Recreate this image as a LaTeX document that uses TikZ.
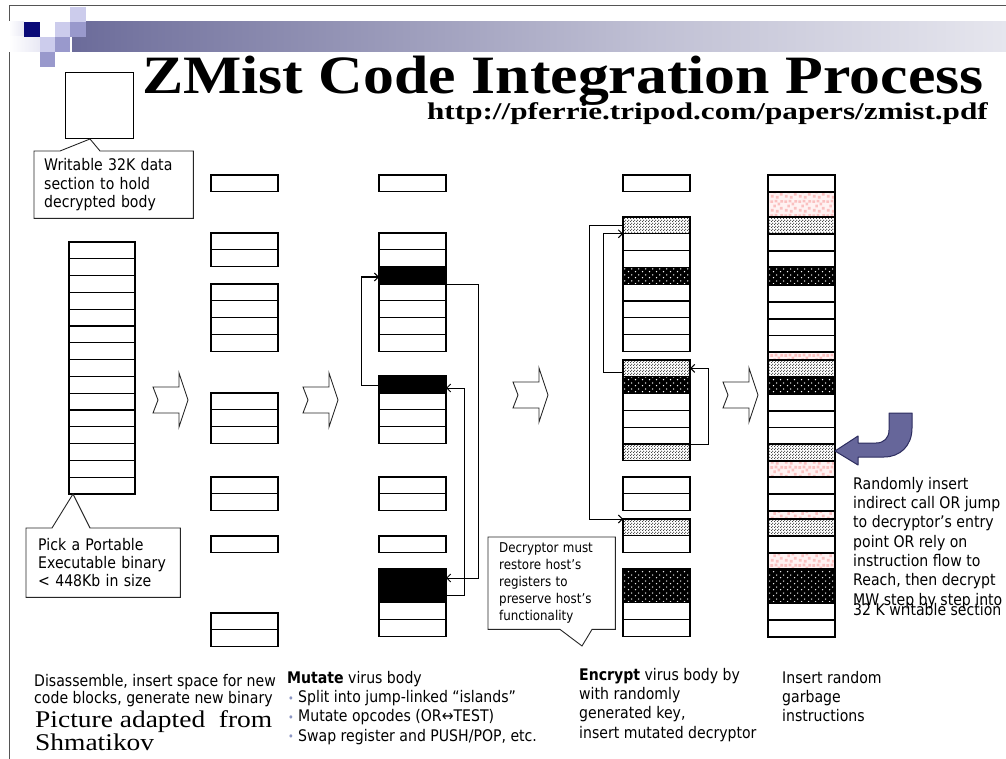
\documentclass[tikz,border=0pt]{standalone}
\usepackage{graphicx}
\usepackage{fontspec}
\newfontfamily\tah[FakeStretch=0.88]{DejaVu Sans}
\newfontfamily\tnr{Liberation Serif}
\usetikzlibrary{patterns,arrows.meta,calc}

\definecolor{navy}{RGB}{10,10,120}
\definecolor{lav}{RGB}{204,204,236}
\definecolor{lavmid}{RGB}{153,153,204}
\definecolor{faint}{RGB}{232,232,244}
\definecolor{framec}{RGB}{85,85,85}
\definecolor{barA}{RGB}{26,26,104}
\definecolor{barB}{RGB}{120,120,162}
\definecolor{barC}{RGB}{192,192,212}
\definecolor{barD}{RGB}{236,236,242}
\definecolor{garbbg}{RGB}{255,242,242}
\definecolor{garbsq}{RGB}{250,192,192}
\definecolor{bentfill}{RGB}{102,102,154}
\definecolor{bentline}{RGB}{45,45,95}
\definecolor{bulletc}{RGB}{140,150,195}

\pgfdeclarehorizontalshading{headerbar}{100bp}{color(0bp)=(barA); color(29bp)=(barB); color(56bp)=(barC); color(78bp)=(barD); color(95bp)=(white); color(100bp)=(white)}

% fine grey dots (light stipple)
\pgfdeclarepatternformonly{finedots}{\pgfqpoint{0pt}{0pt}}{\pgfqpoint{3pt}{3pt}}{\pgfqpoint{3pt}{3pt}}{%
  \pgfpathcircle{\pgfqpoint{0.75pt}{0.75pt}}{0.74pt}%
  \pgfpathcircle{\pgfqpoint{2.25pt}{2.25pt}}{0.74pt}%
  \pgfusepath{fill}}
% sparse dots (white on black)
\pgfdeclarepatternformonly{sparsedots}{\pgfqpoint{0pt}{0pt}}{\pgfqpoint{6.6pt}{6pt}}{\pgfqpoint{6.6pt}{6pt}}{%
  \pgfpathcircle{\pgfqpoint{1.65pt}{1.5pt}}{0.8pt}%
  \pgfpathcircle{\pgfqpoint{4.95pt}{4.5pt}}{0.8pt}%
  \pgfusepath{fill}}
% scattered squares (garbage instructions)
\pgfdeclarepatternformonly{garbage}{\pgfqpoint{0pt}{0pt}}{\pgfqpoint{14pt}{14pt}}{\pgfqpoint{14pt}{14pt}}{%
  \pgfpathrectangle{\pgfqpoint{1pt}{1.5pt}}{\pgfqpoint{2.8pt}{2.8pt}}%
  \pgfpathrectangle{\pgfqpoint{6.2pt}{0.5pt}}{\pgfqpoint{2.8pt}{2.8pt}}%
  \pgfpathrectangle{\pgfqpoint{10.5pt}{3.5pt}}{\pgfqpoint{2.8pt}{2.8pt}}%
  \pgfpathrectangle{\pgfqpoint{3.5pt}{6pt}}{\pgfqpoint{2.8pt}{2.8pt}}%
  \pgfpathrectangle{\pgfqpoint{8pt}{8pt}}{\pgfqpoint{2.8pt}{2.8pt}}%
  \pgfpathrectangle{\pgfqpoint{0.5pt}{10.5pt}}{\pgfqpoint{2.8pt}{2.8pt}}%
  \pgfpathrectangle{\pgfqpoint{5pt}{11pt}}{\pgfqpoint{2.8pt}{2.8pt}}%
  \pgfpathrectangle{\pgfqpoint{11pt}{10.8pt}}{\pgfqpoint{2.8pt}{2.8pt}}%
  \pgfusepath{fill}}

\newcommand\bodytext{\tah\fontsize{16}{19.3}\selectfont}
\newcommand\captext{\tah\fontsize{16}{17.6}\selectfont}
\newcommand\calltext{\tah\fontsize{16}{18.3}\selectfont}
\newcommand\smalltext{\tah\fontsize{13.5}{17}\selectfont}
\newcommand\bul{\hspace*{1pt}\makebox[10pt][l]{\raisebox{0.5pt}{\color{bulletc}\fontsize{11}{11}\selectfont •}}}

\begin{document}
\begin{tikzpicture}[x=1pt,y=-1pt,
  cell/.style={draw=black, line width=1.1pt, fill=white, inner sep=0pt, outer sep=0pt,
    anchor=north west, minimum width=67pt, minimum height=16.8pt},
  ink/.style={cell, fill=black},
  lightdot/.style={cell, preaction={fill=white}, pattern=finedots, pattern color=black!80},
  darkdot/.style={cell, preaction={fill=black}, pattern=sparsedots, pattern color=white},
  junk/.style={cell, preaction={fill=garbbg}, pattern=garbage, pattern color=garbsq},
  link/.style={draw=black, line width=1pt, -{Straight Barb[length=4pt,width=8pt]}},
  callout/.style={draw=black!85, line width=0.9pt, line join=miter},
  hollow/.style={draw=black!85, fill=white, line width=0.9pt, line join=miter},
  txt/.style={inner sep=0pt, align=left, anchor=north west, font=\bodytext},
]
\useasboundingbox (0,0) rectangle (1006,759);
\fill[white] (0,0) rectangle (1006,759);

% slide frame
\draw[framec, line width=1pt] (9,759) -- (9,6) -- (1006,6);

% header bar and corner tiles
\shade[shading=headerbar] (72,22) rectangle (1006,52);
\shade[left color=white, right color=faint] (9,22) rectangle (24,37);
\shade[left color=white, right color=faint] (9,37) rectangle (40,52);
\fill[lav] (70,7) rectangle (86,22);
\fill[navy] (24,22) rectangle (40,37);
\fill[lav] (55,22) rectangle (70,37);
\fill[lavmid] (70,22) rectangle (86,37);
\fill[lav] (40,37) rectangle (55,52);
\fill[lavmid] (55,37) rectangle (70,52);
\fill[lavmid] (40,52) rectangle (55,67);

% title and source
\node[anchor=base west, inner sep=0pt] (title) at (142,94)
  {\scalebox{1.144}[1]{\tnr\bfseries\fontsize{54}{60}\selectfont ZMist Code Integration Process}};
\node[anchor=base east, inner sep=0pt] (url) at (988,120)
  {\scalebox{1.30}[1]{\tnr\bfseries\fontsize{24}{27}\selectfont http://pferrie.tripod.com/papers/zmist.pdf}};

% writable data section
\node[draw=black, line width=1pt, inner sep=0pt, anchor=north west, minimum width=68pt, minimum height=66pt] (databox) at (65,72) {};
\node[txt, font=\calltext, inner xsep=10pt, text width=139pt, minimum height=67pt] (wbox) at (34,151)
  {Writable 32K data\\section to hold\\decrypted body};
\coordinate (wtip) at ($(databox.south west)+(25,0)$);
\draw[callout] (wbox.north west) -- ++(26,0) -- (wtip) -- ($(wbox.north west)+(66,0)$)
  -- (wbox.north east) -- (wbox.south east) -- (wbox.south west) -- cycle;

% column 1: original binary
\foreach \i in {0,...,14} {\node[cell, minimum width=66pt] (a\i) at (69,{242+16.8*\i}) {};}
\node[txt, font=\calltext, inner xsep=12pt, text width=130pt, minimum height=69pt] (pbox) at (26,528)
  {Pick a Portable\\Executable binary\\< 448Kb in size};
\coordinate (ptip) at ($(a14.south west)+(4,0)$);
\draw[callout] (pbox.north west) -- ++(26,0) -- (ptip) -- ($(pbox.north west)+(64,0)$)
  -- (pbox.north east) -- (pbox.south east) -- (pbox.south west) -- cycle;

% column 2: disassembled with gaps
\foreach \t [count=\k] in {175,233,249.8,284,300.8,317.6,334.4,393,409.8,426.6,477,493.8,536,613,629.8}
  {\node[cell] (b\k) at (211,\t) {};}

% column 3: mutated islands
\foreach \t [count=\k] in {175,233,249.8,284,300.8,317.6,334.4,393,409.8,426.6,477,493.8,536,602.6,619.4}
  {\node[cell] (c\k) at (379,\t) {};}
\node[ink, minimum height=17pt] (k1) at (379,267) {};
\node[ink, minimum height=17pt] (k2) at (379,376) {};
\node[ink, minimum height=33.6pt] (k3) at (379,569) {};
\draw[link] (k1.south east) -- ++(32,0) |- ($(k3.north east)+(0,9)$);
\draw[link] ($(k3.north east)+(0,26)$) -- ++(18,0) |- ($(k2.north east)+(0,12)$);
\draw[link] ($(k2.north west)+(0,9)$) -- ++(-18,0) |- ($(k1.north west)+(0,10)$);

% column 4: encrypted body with decryptor
\foreach \t [count=\k] in {175,233.8,250.6,284.2,301,317.8,334.6,393.6,410.4,427.2,477,493.8,535.8,602.6,619.4}
  {\node[cell] (d\k) at (623,\t) {};}
\node[lightdot] (q1) at (623,217) {};
\node[lightdot] (q2) at (623,360) {};
\node[lightdot] (q3) at (623,444) {};
\node[lightdot] (q4) at (623,519) {};
\node[darkdot] (z1) at (623,267.4) {};
\node[darkdot] (z2) at (623,376.8) {};
\node[darkdot, minimum height=33.6pt] (z3) at (623,569) {};
\draw[link] (q1.west) -- ++(-34,0) |- (q4.north west);
\draw[link] ($(q2.north west)+(0,12)$) -- ++(-20,0) |- (q1.south west);
\draw[link] (q3.north east) -- ++(18,0) |- (q2.east);

\node[txt, font=\smalltext, inner xsep=11pt, text width=105pt, minimum height=92pt] (dbox) at (488,537)
  {Decryptor must\\restore host’s\\registers to\\preserve host’s\\functionality};
\coordinate (dtip) at (582,646);
\draw[callout] (dbox.north west) -- (dbox.north east) -- (dbox.south east)
  -- ($(dbox.south west)+(104,0)$) -- (dtip) -- ($(dbox.south west)+(72,0)$)
  -- (dbox.south west) -- cycle;

% column 5: garbage inserted
\foreach \ta/\tb/\st [count=\k] in {175/192/cell, 192/217/junk, 217/234/lightdot, 234/251/cell,
    251/267/cell, 267/285/darkdot, 285/302/cell, 302/319/cell, 319/335.5/cell, 335.5/352/cell,
    352/360/junk, 360/377/lightdot, 377/394/darkdot, 394/411/cell, 411/427.5/cell, 427.5/444/cell,
    444/461/lightdot, 461/477/junk, 477/494/cell, 494/511/cell, 511/519/junk, 519/536/lightdot,
    536/553/cell, 553/569/junk, 569/603/darkdot, 603/620/cell, 620/637/cell}
  {\node[\st, minimum height={(\tb-\ta)*1pt}] (e\k) at (768,\ta) {};}

% step arrows
\newcommand\steparrow[2]{%
  \draw[hollow] (#1,#2-13) -- ++(26,0) -- ++(0,-14) -- ++(9,27) -- ++(-9,27) -- ++(0,-14)
    -- ++(-26,0) -- ++(5,-13) -- cycle;}
\steparrow{153}{400}
\steparrow{303}{400}
\steparrow{513}{395}
\steparrow{723}{395}

% entry point arrow
\filldraw[fill=bentfill, draw=bentline, line width=1pt, line join=round]
  (835,451) -- (858,436) -- (858,443) -- (876,443)
  .. controls (884,443) and (889,438) .. (889,430) -- (889,413) -- (912,413) -- (912,428)
  .. controls (912,446) and (900,457) .. (884,457) -- (858,457) -- (858,465) -- cycle;

\node[txt] (entrytext) at (853,477)
  {Randomly insert\\indirect call OR jump\\to decryptor’s entry\\point OR rely on\\instruction flow to\\Reach, then decrypt\\MW step by step into\\[-8.5pt]32 K writable section};

% step captions
\node[txt, font=\captext] (cap1) at (34,674)
  {Disassemble, insert space for new\\code blocks, generate new binary};
\node[txt] (cap2) at (287,671)
  {\textbf{Mutate} virus body\\\bul Split into jump-linked “islands”\\\bul Mutate opcodes (OR↔TEST)\\\bul Swap register and PUSH/POP, etc.};
\node[txt] (cap3) at (579,668)
  {\textbf{Encrypt} virus body by\\with randomly\\generated key,\\insert mutated decryptor};
\node[txt] (cap4) at (782,671)
  {Insert random\\garbage\\instructions};
\node[anchor=base west, inner sep=0pt, font=\tnr] (credit) at (35,727.4)
  {\scalebox{1.144}[1]{\fontsize{24}{23}\selectfont\begin{tabular}[t]{@{}l@{}}Picture adapted\ \ from\\Shmatikov\end{tabular}}};
\end{tikzpicture}
\end{document}
